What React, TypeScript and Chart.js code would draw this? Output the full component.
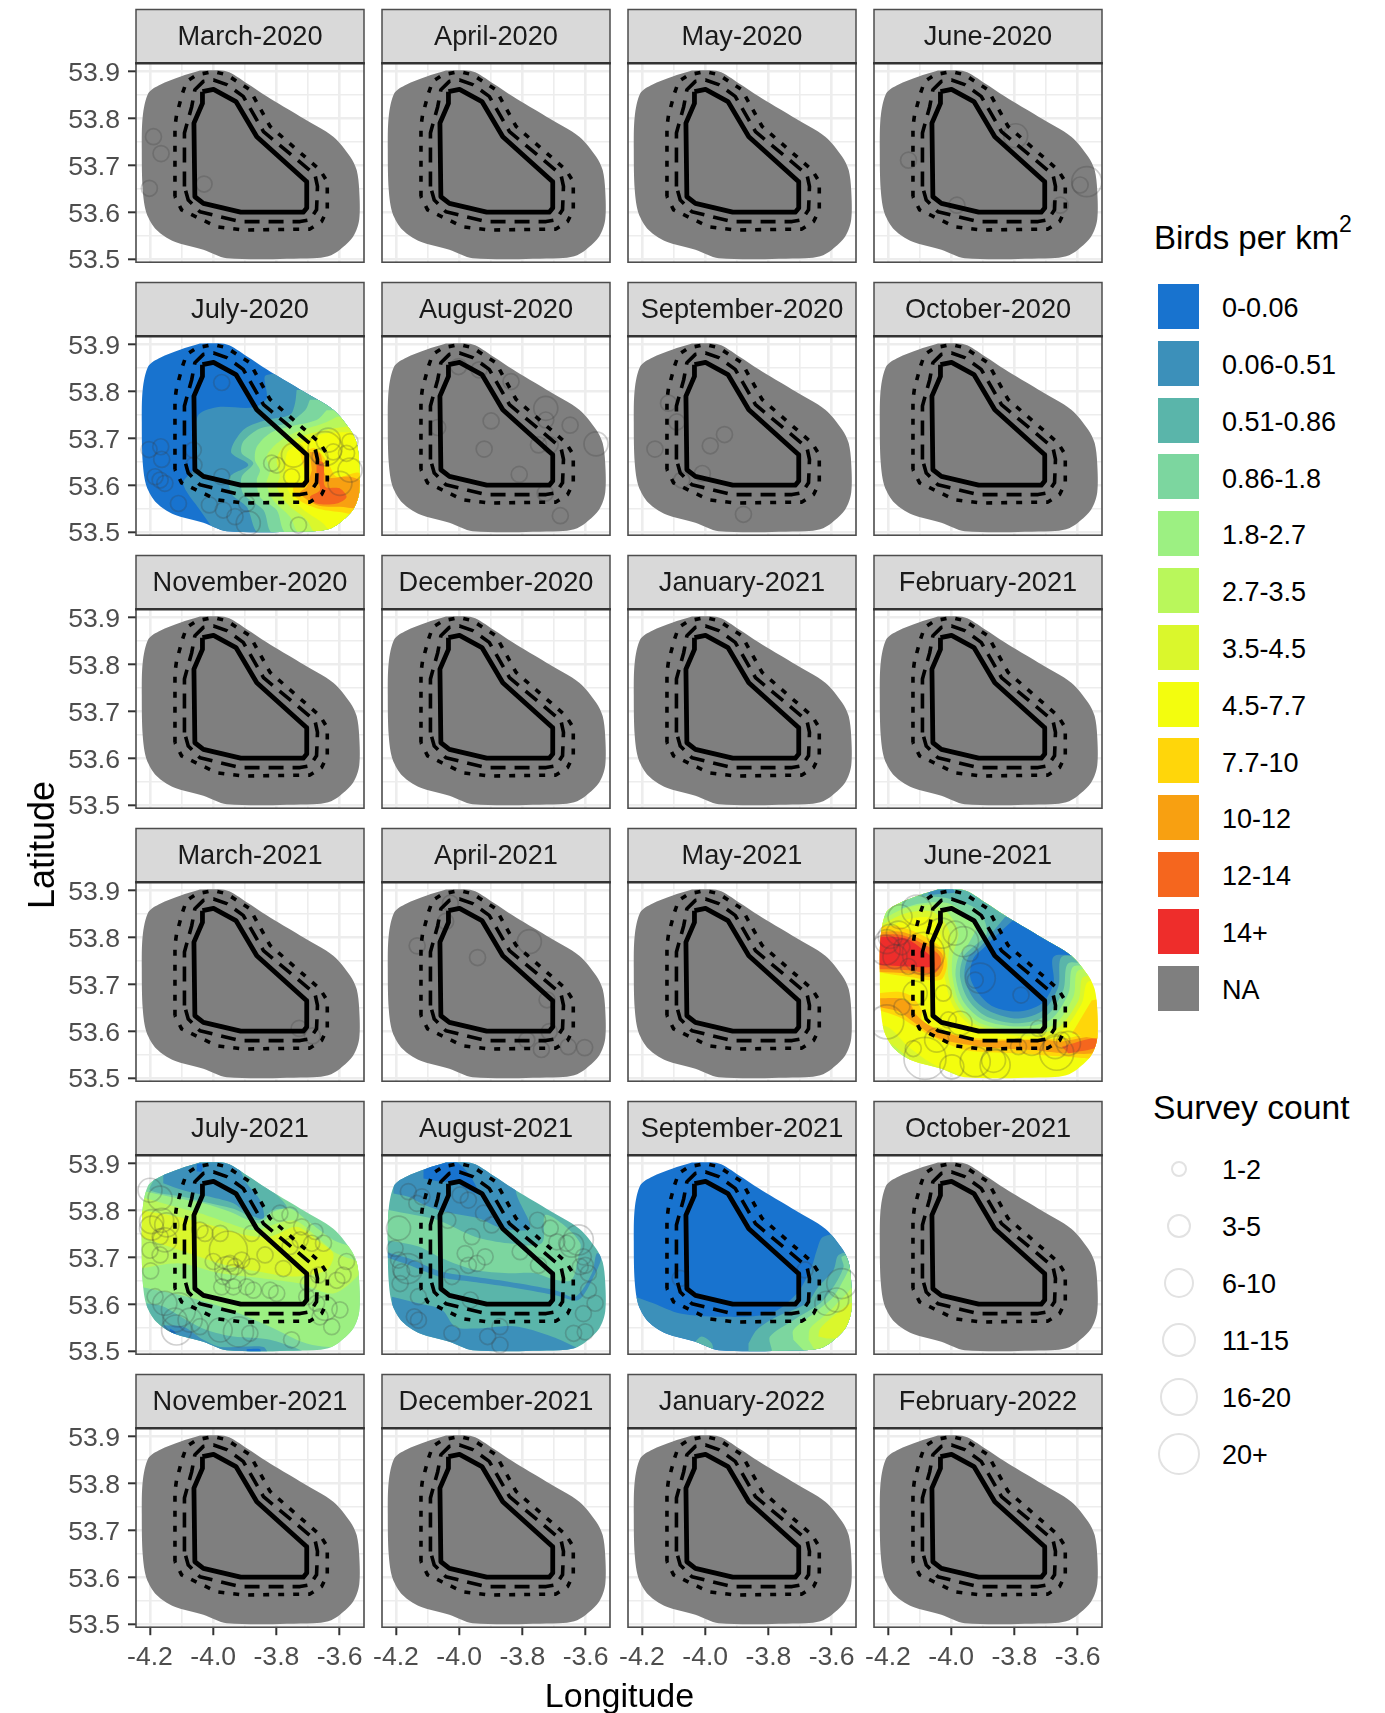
import { useEffect, useRef } from "react";
import { Chart, registerables } from "chart.js";

type Pt = number[];
type Band = { level: number; coords: Pt[] };

const FONT = '"Liberation Sans", Arial, sans-serif';

const panelTitles = [
  "March-2020", "April-2020", "May-2020", "June-2020",
  "July-2020", "August-2020", "September-2020", "October-2020",
  "November-2020", "December-2020", "January-2021", "February-2021",
  "March-2021", "April-2021", "May-2021", "June-2021",
  "July-2021", "August-2021", "September-2021", "October-2021",
  "November-2021", "December-2021", "January-2022", "February-2022",
];

const densityLabels = ["0-0.06", "0.06-0.51", "0.51-0.86", "0.86-1.8", "1.8-2.7", "2.7-3.5", "3.5-4.5", "4.5-7.7", "7.7-10", "10-12", "12-14", "14+", "NA"];
const densityColors = ["#1873cf", "#3c90ba", "#5ab5aa", "#7cd69f", "#9cf082", "#b9f75b", "#daf72c", "#f3fd0e", "#ffd60a", "#f8a011", "#f5661e", "#ee2d2b", "#7f7f7f"];
const NA_LEVEL = 12;

const sizeLabels = ["1-2", "3-5", "6-10", "11-15", "16-20", "20+"];
const sizeRadii = [8, 12, 15, 17, 19, 21];

const regionOutline: Pt[] = [
  [-4.042, 53.902], [-3.957, 53.9], [-3.894, 53.875], [-3.831, 53.847], [-3.725, 53.804], [-3.62, 53.761],
  [-3.567, 53.719], [-3.546, 53.69], [-3.538, 53.648], [-3.538, 53.584], [-3.557, 53.548], [-3.599, 53.52],
  [-3.636, 53.506], [-3.683, 53.502], [-3.957, 53.502], [-4.031, 53.52], [-4.126, 53.538], [-4.179, 53.562],
  [-4.211, 53.598], [-4.223, 53.648], [-4.226, 53.733], [-4.223, 53.804], [-4.205, 53.854], [-4.168, 53.872],
  [-4.105, 53.889], [-4.042, 53.902],
];
const solidBoundary: Pt[] = [
  [-4.034, 53.857], [-3.999, 53.862], [-3.928, 53.836], [-3.862, 53.761], [-3.704, 53.665], [-3.704, 53.609],
  [-3.715, 53.6], [-3.913, 53.6], [-4.031, 53.619], [-4.058, 53.633], [-4.061, 53.79], [-4.034, 53.832], [-4.034, 53.857],
];
const dashedBoundary: Pt[] = [
  [-4.091, 53.655], [-4.091, 53.769], [-4.068, 53.825], [-4.058, 53.861], [-4.031, 53.879], [-3.999, 53.882],
  [-3.957, 53.872], [-3.905, 53.847], [-3.841, 53.772], [-3.678, 53.68], [-3.67, 53.655], [-3.673, 53.605],
  [-3.694, 53.584], [-3.725, 53.58], [-3.915, 53.58], [-4.042, 53.601], [-4.079, 53.626], [-4.091, 53.655],
];
const dottedBoundary: Pt[] = [
  [-4.121, 53.633], [-4.121, 53.783], [-4.116, 53.807], [-4.097, 53.854], [-4.084, 53.879], [-4.052, 53.893],
  [-3.999, 53.9], [-3.957, 53.893], [-3.884, 53.861], [-3.82, 53.783], [-3.662, 53.69], [-3.639, 53.665],
  [-3.639, 53.605], [-3.657, 53.58], [-3.694, 53.564], [-3.905, 53.562], [-3.989, 53.569], [-4.1, 53.605], [-4.121, 53.633],
];

const jul2020Bands: Band[] = [
  { level: 0, coords: regionOutline },
  { level: 1, coords: [[-3.989, 53.497], [-4.042, 53.547], [-4.095, 53.604], [-4.058, 53.639], [-4.05, 53.746], [-3.989, 53.766], [-3.873, 53.766], [-3.831, 53.785], [-3.831, 53.835], [-3.451, 53.835], [-3.451, 53.497]] },
  { level: 2, coords: [[-3.736, 53.803], [-3.741, 53.775], [-3.757, 53.75], [-3.831, 53.739], [-3.899, 53.721], [-3.936, 53.689], [-3.942, 53.668], [-3.889, 53.643], [-3.947, 53.618], [-3.942, 53.582], [-3.894, 53.554], [-3.852, 53.497], [-3.451, 53.497], [-3.451, 53.803]] },
  { level: 3, coords: [[-3.694, 53.782], [-3.709, 53.76], [-3.767, 53.732], [-3.852, 53.721], [-3.905, 53.693], [-3.91, 53.668], [-3.873, 53.647], [-3.91, 53.618], [-3.905, 53.582], [-3.841, 53.547], [-3.81, 53.497], [-3.451, 53.497], [-3.451, 53.782]] },
  { level: 4, coords: [[-3.641, 53.76], [-3.673, 53.739], [-3.757, 53.725], [-3.82, 53.711], [-3.862, 53.682], [-3.868, 53.654], [-3.852, 53.632], [-3.862, 53.611], [-3.852, 53.575], [-3.799, 53.547], [-3.767, 53.497], [-3.451, 53.497], [-3.451, 53.76]] },
  { level: 5, coords: [[-3.609, 53.746], [-3.651, 53.732], [-3.746, 53.711], [-3.799, 53.689], [-3.831, 53.661], [-3.82, 53.632], [-3.831, 53.604], [-3.81, 53.568], [-3.757, 53.533], [-3.725, 53.497], [-3.451, 53.497], [-3.451, 53.746]] },
  { level: 6, coords: [[-3.578, 53.725], [-3.641, 53.718], [-3.725, 53.703], [-3.778, 53.682], [-3.799, 53.654], [-3.789, 53.618], [-3.799, 53.597], [-3.767, 53.561], [-3.704, 53.526], [-3.673, 53.497], [-3.451, 53.497], [-3.451, 53.725]] },
  { level: 7, coords: [[-3.451, 53.711], [-3.641, 53.711], [-3.725, 53.689], [-3.767, 53.668], [-3.767, 53.597], [-3.725, 53.554], [-3.651, 53.518], [-3.62, 53.497], [-3.451, 53.497]] },
  { level: 8, coords: [[-3.725, 53.668], [-3.678, 53.679], [-3.636, 53.647], [-3.609, 53.618], [-3.535, 53.625], [-3.525, 53.54], [-3.599, 53.543], [-3.673, 53.551], [-3.736, 53.572], [-3.746, 53.597], [-3.704, 53.611]] },
  { level: 9, coords: [[-3.694, 53.671], [-3.662, 53.668], [-3.641, 53.618], [-3.567, 53.618], [-3.525, 53.604], [-3.525, 53.554], [-3.599, 53.554], [-3.673, 53.558], [-3.725, 53.583], [-3.704, 53.597], [-3.688, 53.632]] },
  { level: 10, coords: [[-3.673, 53.654], [-3.651, 53.647], [-3.646, 53.597], [-3.599, 53.593], [-3.578, 53.575], [-3.609, 53.561], [-3.673, 53.561], [-3.694, 53.575], [-3.662, 53.59], [-3.673, 53.618]] },
];

const jun2021Bands: Band[] = [
  { level: 7, coords: regionOutline },
  { level: 6, coords: [[-4.23, 53.809], [-4.146, 53.837], [-4.061, 53.841], [-4.035, 53.809], [-4.025, 53.759], [-4.021, 53.716], [-3.993, 53.652], [-3.93, 53.61], [-3.787, 53.59], [-3.655, 53.599], [-3.587, 53.659], [-3.566, 53.706], [-3.471, 53.706], [-3.471, 53.93], [-4.23, 53.93]] },
  { level: 5, coords: [[-4.23, 53.823], [-4.146, 53.851], [-4.061, 53.855], [-4.019, 53.83], [-4.003, 53.802], [-4.009, 53.759], [-4.009, 53.716], [-3.982, 53.656], [-3.919, 53.613], [-3.787, 53.595], [-3.666, 53.606], [-3.597, 53.666], [-3.581, 53.716], [-3.471, 53.716], [-3.471, 53.93], [-4.23, 53.93]] },
  { level: 4, coords: [[-4.22, 53.837], [-4.146, 53.862], [-4.061, 53.869], [-4.009, 53.851], [-3.977, 53.809], [-3.996, 53.759], [-3.996, 53.716], [-3.972, 53.659], [-3.908, 53.617], [-3.787, 53.602], [-3.676, 53.613], [-3.613, 53.674], [-3.597, 53.73], [-3.471, 53.73], [-3.471, 53.93], [-4.22, 53.93]] },
  { level: 3, coords: [[-4.156, 53.862], [-4.093, 53.873], [-4.009, 53.873], [-3.956, 53.851], [-3.919, 53.83], [-3.945, 53.787], [-3.977, 53.759], [-3.986, 53.716], [-3.961, 53.663], [-3.898, 53.624], [-3.787, 53.61], [-3.687, 53.624], [-3.629, 53.681], [-3.613, 53.738], [-3.513, 53.738], [-3.513, 53.922], [-4.156, 53.922]] },
  { level: 2, coords: [[-4.093, 53.887], [-4.009, 53.883], [-3.914, 53.858], [-3.887, 53.809], [-3.93, 53.78], [-3.961, 53.759], [-3.972, 53.716], [-3.945, 53.666], [-3.887, 53.631], [-3.787, 53.617], [-3.697, 53.634], [-3.645, 53.688], [-3.629, 53.745], [-3.534, 53.745], [-3.534, 53.922], [-4.093, 53.922]] },
  { level: 1, coords: [[-3.829, 53.844], [-3.872, 53.809], [-3.908, 53.78], [-3.945, 53.759], [-3.958, 53.716], [-3.93, 53.67], [-3.877, 53.642], [-3.787, 53.627], [-3.708, 53.645], [-3.661, 53.695], [-3.65, 53.759], [-3.555, 53.759], [-3.555, 53.844]] },
  { level: 1, coords: [[-4.072, 53.89], [-4.019, 53.894], [-3.988, 53.897], [-4.019, 53.915], [-4.072, 53.915]] },
  { level: 0, coords: [[-3.803, 53.837], [-3.856, 53.805], [-3.893, 53.78], [-3.93, 53.755], [-3.94, 53.716], [-3.914, 53.681], [-3.866, 53.652], [-3.787, 53.642], [-3.713, 53.659], [-3.676, 53.702], [-3.676, 53.759], [-3.587, 53.766], [-3.587, 53.837]] },
  { level: 8, coords: [[-4.23, 53.823], [-4.167, 53.823], [-4.083, 53.802], [-4.025, 53.773], [-4.014, 53.738], [-4.035, 53.709], [-4.135, 53.716], [-4.23, 53.726]] },
  { level: 9, coords: [[-4.23, 53.812], [-4.156, 53.812], [-4.083, 53.791], [-4.03, 53.766], [-4.025, 53.738], [-4.046, 53.716], [-4.135, 53.723], [-4.23, 53.727]] },
  { level: 10, coords: [[-4.23, 53.805], [-4.156, 53.805], [-4.072, 53.78], [-4.035, 53.759], [-4.035, 53.738], [-4.056, 53.723], [-4.135, 53.73], [-4.23, 53.732]] },
  { level: 11, coords: [[-4.23, 53.802], [-4.146, 53.798], [-4.088, 53.773], [-4.056, 53.752], [-4.056, 53.738], [-4.135, 53.738], [-4.23, 53.741]] },
  { level: 8, coords: [[-4.23, 53.681], [-4.167, 53.684], [-4.125, 53.674], [-4.093, 53.645], [-4.093, 53.624], [-4.03, 53.602], [-3.914, 53.585], [-3.639, 53.585], [-3.534, 53.595], [-3.534, 53.546], [-3.639, 53.546], [-3.798, 53.553], [-3.956, 53.56], [-4.061, 53.588], [-4.114, 53.61], [-4.167, 53.631], [-4.23, 53.645]] },
  { level: 9, coords: [[-4.23, 53.67], [-4.167, 53.67], [-4.13, 53.659], [-4.114, 53.638], [-4.072, 53.613], [-4.009, 53.595], [-3.914, 53.581], [-3.703, 53.581], [-3.65, 53.578], [-3.534, 53.588], [-3.534, 53.556], [-3.639, 53.553], [-3.745, 53.56], [-3.903, 53.567], [-4.04, 53.585], [-4.114, 53.617], [-4.167, 53.642], [-4.23, 53.652]] },
  { level: 10, coords: [[-3.65, 53.567], [-3.545, 53.585], [-3.534, 53.567], [-3.629, 53.553]] },
  { level: 8, coords: [[-3.555, 53.666], [-3.534, 53.666], [-3.534, 53.588], [-3.618, 53.595]] },
  { level: 6, coords: [[-4.241, 53.617], [-4.193, 53.606], [-4.135, 53.567], [-4.061, 53.531], [-3.977, 53.503], [-4.241, 53.475]] },
  { level: 5, coords: [[-4.241, 53.595], [-4.178, 53.567], [-4.114, 53.531], [-4.04, 53.496], [-4.241, 53.475]] },
  { level: 4, coords: [[-4.241, 53.581], [-4.209, 53.581], [-4.167, 53.546], [-4.093, 53.51], [-4.241, 53.482]] },
];

const jul2021Bands: Band[] = [
  { level: 3, coords: regionOutline },
  { level: 4, coords: [[-4.232, 53.843], [-4.137, 53.829], [-4.031, 53.815], [-3.947, 53.797], [-3.852, 53.772], [-3.81, 53.797], [-3.757, 53.804], [-3.704, 53.779], [-3.62, 53.737], [-3.535, 53.708], [-3.535, 53.524], [-3.609, 53.509], [-3.704, 53.516], [-3.82, 53.552], [-3.947, 53.588], [-4.084, 53.616], [-4.232, 53.637]] },
  { level: 5, coords: [[-4.232, 53.829], [-4.137, 53.811], [-4.042, 53.794], [-3.947, 53.772], [-3.873, 53.758], [-3.746, 53.779], [-3.673, 53.744], [-3.609, 53.708], [-3.535, 53.687], [-3.535, 53.666], [-3.62, 53.623], [-3.725, 53.644], [-3.841, 53.655], [-3.978, 53.666], [-4.105, 53.687], [-4.232, 53.676]] },
  { level: 6, coords: [[-4.232, 53.801], [-4.116, 53.787], [-3.989, 53.765], [-3.894, 53.747], [-3.82, 53.744], [-3.736, 53.765], [-3.673, 53.737], [-3.62, 53.708], [-3.641, 53.673], [-3.746, 53.659], [-3.852, 53.669], [-3.978, 53.687], [-4.105, 53.715], [-4.232, 53.744]] },
  { level: 2, coords: [[-4.189, 53.865], [-4.2, 53.843], [-4.095, 53.829], [-4.01, 53.815], [-3.926, 53.801], [-3.857, 53.779], [-3.81, 53.801], [-3.767, 53.808], [-3.841, 53.858], [-3.957, 53.915], [-4.189, 53.915]] },
  { level: 1, coords: [[-4.158, 53.858], [-4.095, 53.843], [-4.01, 53.829], [-3.936, 53.815], [-3.894, 53.794], [-3.841, 53.783], [-3.852, 53.822], [-3.894, 53.858], [-3.947, 53.915], [-4.158, 53.915]] },
  { level: 0, coords: [[-4.052, 53.899], [-4.036, 53.899], [-4.036, 53.883], [-4.052, 53.883]] },
  { level: 2, coords: [[-4.211, 53.602], [-4.158, 53.595], [-4.084, 53.566], [-4.021, 53.545], [-3.936, 53.531], [-3.82, 53.524], [-3.715, 53.495], [-4.232, 53.481]] },
  { level: 1, coords: [[-4.158, 53.555], [-4.095, 53.552], [-4.031, 53.524], [-3.978, 53.509], [-3.841, 53.509], [-3.831, 53.495], [-4.158, 53.481]] },
  { level: 0, coords: [[-4.137, 53.548], [-4.121, 53.541], [-4.116, 53.531], [-4.137, 53.531]] },
  { level: 0, coords: [[-3.894, 53.504], [-3.852, 53.504], [-3.852, 53.495], [-3.894, 53.495]] },
];

const aug2021Bands: Band[] = [
  { level: 2, coords: regionOutline },
  { level: 1, coords: [[-4.208, 53.836], [-4.161, 53.829], [-4.108, 53.811], [-4.045, 53.797], [-3.939, 53.783], [-3.865, 53.762], [-3.776, 53.762], [-3.818, 53.833], [-3.844, 53.915], [-4.208, 53.915]] },
  { level: 0, coords: [[-4.113, 53.886], [-4.076, 53.9], [-4.013, 53.904], [-3.971, 53.879], [-3.939, 53.836], [-3.981, 53.847], [-4.013, 53.861], [-4.055, 53.861], [-4.113, 53.868]] },
  { level: 3, coords: [[-4.234, 53.802], [-4.14, 53.79], [-4.066, 53.779], [-3.95, 53.744], [-3.844, 53.73], [-3.739, 53.73], [-3.728, 53.79], [-3.675, 53.772], [-3.617, 53.73], [-3.623, 53.701], [-3.644, 53.652], [-3.696, 53.652], [-3.76, 53.666], [-3.844, 53.666], [-3.95, 53.673], [-4.055, 53.698], [-4.129, 53.723], [-4.234, 53.737]] },
  { level: 1, coords: [[-4.234, 53.712], [-4.161, 53.698], [-4.055, 53.669], [-3.96, 53.659], [-3.844, 53.648], [-3.696, 53.63], [-3.633, 53.616], [-3.58, 53.666], [-3.565, 53.708], [-3.549, 53.701], [-3.58, 53.651], [-3.623, 53.609], [-3.696, 53.619], [-3.844, 53.637], [-3.96, 53.648], [-4.055, 53.657], [-4.161, 53.684], [-4.234, 53.701]] },
  { level: 1, coords: [[-4.213, 53.616], [-4.129, 53.602], [-4.055, 53.588], [-4.013, 53.552], [-3.95, 53.548], [-3.813, 53.552], [-3.633, 53.509], [-3.612, 53.481], [-4.213, 53.481]] },
];

const sep2021Bands: Band[] = [
  { level: 0, coords: regionOutline },
  { level: 1, coords: [[-4.222, 53.616], [-4.164, 53.602], [-4.079, 53.58], [-3.953, 53.573], [-3.795, 53.58], [-3.71, 53.623], [-3.663, 53.68], [-3.647, 53.715], [-3.626, 53.744], [-3.531, 53.744], [-3.531, 53.488], [-4.222, 53.488]] },
  { level: 2, coords: [[-4.037, 53.516], [-4.011, 53.531], [-3.979, 53.516], [-3.979, 53.495], [-4.037, 53.495]] },
  { level: 2, coords: [[-3.863, 53.516], [-3.837, 53.545], [-3.774, 53.573], [-3.679, 53.602], [-3.642, 53.637], [-3.594, 53.673], [-3.578, 53.705], [-3.531, 53.708], [-3.531, 53.488], [-3.863, 53.488]] },
  { level: 3, coords: [[-3.789, 53.502], [-3.795, 53.531], [-3.721, 53.566], [-3.636, 53.602], [-3.594, 53.637], [-3.562, 53.68], [-3.568, 53.701], [-3.531, 53.701], [-3.531, 53.488], [-3.789, 53.488]] },
  { level: 4, coords: [[-3.721, 53.524], [-3.721, 53.545], [-3.657, 53.58], [-3.594, 53.616], [-3.562, 53.652], [-3.531, 53.687], [-3.531, 53.488], [-3.679, 53.495]] },
  { level: 5, coords: [[-3.673, 53.524], [-3.668, 53.548], [-3.615, 53.58], [-3.552, 53.623], [-3.531, 53.637], [-3.531, 53.495], [-3.647, 53.495]] },
  { level: 6, coords: [[-3.642, 53.531], [-3.636, 53.548], [-3.584, 53.58], [-3.531, 53.602], [-3.531, 53.531], [-3.615, 53.527]] },
];

const panelBands: Record<string, Band[]> = {
  "July-2020": jul2020Bands,
  "June-2021": jun2021Bands,
  "July-2021": jul2021Bands,
  "August-2021": aug2021Bands,
  "September-2021": sep2021Bands,
};

// survey positions: longitude, latitude, size class (index into sizeLabels)
const surveysMar2020: Pt[] = [[-4.189, 53.761, 0], [-4.165, 53.725, 0], [-4.202, 53.651, 0], [-4.029, 53.66, 0]];
const surveysJun2020: Pt[] = [[-4.135, 53.711, 0], [-3.796, 53.763, 1], [-3.571, 53.665, 2], [-3.592, 53.658, 0], [-3.982, 53.615, 0], [-3.655, 53.615, 0]];
const surveysJul2020: Pt[] = [
  [-3.973, 53.819, 0], [-4.203, 53.676, 0], [-4.166, 53.682, 0], [-4.163, 53.655, 0], [-4.184, 53.618, 0], [-4.168, 53.611, 0],
  [-4.153, 53.604, 0], [-4.11, 53.561, 0], [-4.063, 53.675, 0], [-4.061, 53.643, 0], [-4.012, 53.558, 0], [-3.973, 53.618, 0],
  [-3.968, 53.547, 0], [-3.931, 53.533, 0], [-3.889, 53.519, 1], [-3.894, 53.561, 0], [-3.73, 53.515, 0], [-3.799, 53.643, 0],
  [-3.815, 53.647, 0], [-3.746, 53.664, 1], [-3.752, 53.618, 0], [-3.636, 53.696, 1], [-3.646, 53.678, 3], [-3.567, 53.693, 0],
  [-3.578, 53.668, 0], [-3.567, 53.632, 1], [-3.599, 53.604, 1], [-3.662, 53.661, 0], [-3.62, 53.671, 0],
];
const surveysAug2020: Pt[] = [
  [-4.002, 53.853, 0], [-3.937, 53.846, 0], [-3.836, 53.821, 0], [-3.726, 53.764, 1], [-3.726, 53.739, 0], [-3.649, 53.728, 0],
  [-3.567, 53.688, 1], [-3.899, 53.737, 0], [-3.921, 53.677, 0], [-4.068, 53.723, 0], [-3.749, 53.686, 0], [-3.712, 53.686, 0],
  [-3.81, 53.623, 0], [-3.728, 53.583, 0], [-3.68, 53.535, 0],
];
const surveysSep2020: Pt[] = [[-4.116, 53.775, 0], [-4.09, 53.735, 0], [-4.159, 53.677, 0], [-3.984, 53.684, 0], [-3.939, 53.708, 0], [-4.009, 53.625, 0], [-4.074, 53.611, 0], [-3.879, 53.538, 0]];
const surveysMar2021: Pt[] = [[-3.728, 53.606, 0], [-3.686, 53.59, 0]];
const surveysApr2021: Pt[] = [[-4.133, 53.782, 0], [-4.028, 53.873, 0], [-4.043, 53.834, 0], [-3.942, 53.757, 0], [-3.778, 53.791, 1], [-3.722, 53.667, 0], [-3.715, 53.599, 0], [-3.786, 53.581, 0], [-3.74, 53.561, 0], [-3.655, 53.567, 0], [-3.603, 53.565, 0]];
const surveysJun2021: Pt[] = [
  [-4.109, 53.858, 2], [-4.162, 53.844, 1], [-4.204, 53.791, 1], [-4.167, 53.809, 1], [-4.193, 53.802, 1], [-4.209, 53.773, 2],
  [-4.178, 53.759, 1], [-4.156, 53.78, 0], [-4.135, 53.738, 0], [-4.088, 53.766, 5], [-4.03, 53.809, 2], [-3.988, 53.809, 1],
  [-3.961, 53.791, 2], [-3.94, 53.766, 0], [-3.908, 53.713, 2], [-3.924, 53.709, 0], [-4.025, 53.681, 0], [-4.114, 53.681, 1],
  [-4.156, 53.652, 0], [-4.204, 53.62, 3], [-3.972, 53.617, 1], [-3.779, 53.677, 0], [-4.12, 53.563, 0], [-4.083, 53.542, 5],
  [-4.046, 53.581, 1], [-3.998, 53.524, 1], [-3.924, 53.535, 2], [-3.866, 53.538, 1], [-3.861, 53.528, 2], [-3.787, 53.567, 0],
  [-3.745, 53.574, 1], [-3.724, 53.606, 0], [-3.671, 53.567, 1], [-3.65, 53.581, 0], [-3.666, 53.553, 3], [-3.629, 53.574, 1],
  [-4.009, 53.624, 0],
];
const surveysJul2021: Pt[] = [
  [-4.2, 53.843, 1], [-4.168, 53.826, 1], [-4.195, 53.776, 1], [-4.163, 53.779, 1], [-4.195, 53.762, 1], [-4.147, 53.769, 1],
  [-4.168, 53.744, 0], [-4.153, 53.737, 1], [-4.2, 53.715, 0], [-4.168, 53.705, 0], [-4.198, 53.671, 0], [-4.184, 53.616, 0],
  [-4.153, 53.602, 1], [-4.11, 53.588, 3], [-4.121, 53.566, 1], [-4.116, 53.545, 2], [-4.073, 53.566, 1], [-4.042, 53.552, 0],
  [-3.978, 53.545, 1], [-3.92, 53.541, 2], [-3.884, 53.538, 0], [-3.752, 53.524, 0], [-3.952, 53.715, 4], [-4.026, 53.751, 0],
  [-4.042, 53.758, 0], [-3.978, 53.751, 0], [-3.878, 53.751, 0], [-3.91, 53.694, 0], [-3.947, 53.687, 0], [-3.957, 53.676, 1],
  [-3.931, 53.68, 0], [-3.878, 53.68, 0], [-4.0, 53.691, 0], [-3.968, 53.659, 0], [-3.936, 53.659, 1], [-3.936, 53.637, 0],
  [-3.873, 53.63, 0], [-3.82, 53.63, 0], [-3.799, 53.623, 0], [-3.973, 53.637, 0], [-3.836, 53.705, 0], [-3.778, 53.676, 0],
  [-3.789, 53.794, 0], [-3.757, 53.79, 0], [-3.72, 53.765, 0], [-3.678, 53.755, 0], [-3.651, 53.73, 0], [-3.688, 53.73, 0],
  [-3.725, 53.737, 0], [-3.757, 53.723, 0], [-3.667, 53.662, 0], [-3.578, 53.691, 0], [-3.589, 53.662, 0], [-3.609, 53.651, 0],
  [-3.699, 53.644, 0], [-3.704, 53.616, 0], [-3.673, 53.602, 0], [-3.599, 53.588, 0], [-3.625, 53.552, 0], [-3.662, 53.573, 0],
  [-3.646, 53.591, 1], [-3.894, 53.637, 0],
];
const surveysAug2021: Pt[] = [
  [-4.161, 53.84, 0], [-4.118, 53.829, 0], [-4.134, 53.815, 0], [-3.997, 53.833, 0], [-3.971, 53.822, 0], [-3.923, 53.794, 0],
  [-4.036, 53.779, 0], [-4.192, 53.762, 1], [-3.96, 53.744, 0], [-4.203, 53.719, 0], [-4.163, 53.676, 2], [-4.192, 53.694, 0],
  [-4.182, 53.669, 0], [-4.14, 53.676, 0], [-4.187, 53.644, 0], [-4.129, 53.616, 0], [-4.142, 53.573, 0], [-4.129, 53.566, 0],
  [-4.023, 53.538, 0], [-3.91, 53.531, 0], [-3.871, 53.513, 0], [-3.871, 53.552, 0], [-3.981, 53.708, 0], [-3.918, 53.701, 0],
  [-3.944, 53.687, 0], [-3.971, 53.683, 0], [-4.023, 53.659, 0], [-3.965, 53.609, 0], [-3.807, 53.712, 0], [-3.749, 53.683, 0],
  [-3.752, 53.779, 0], [-3.712, 53.762, 0], [-3.691, 53.733, 0], [-3.66, 53.73, 0], [-3.644, 53.726, 1], [-3.623, 53.737, 2],
  [-3.607, 53.701, 0], [-3.601, 53.683, 0], [-3.617, 53.68, 0], [-3.591, 53.666, 0], [-3.591, 53.63, 0], [-3.57, 53.602, 0],
  [-3.607, 53.58, 0], [-3.638, 53.538, 0], [-3.601, 53.541, 0], [-3.897, 53.769, 0],
];
const surveysSep2021: Pt[] = [[-4.079, 53.655, 0], [-3.684, 53.673, 0], [-3.568, 53.644, 2], [-3.584, 53.609, 1], [-3.615, 53.602, 1]];

const panelSurveys: Record<string, Pt[]> = {
  "March-2020": surveysMar2020,
  "June-2020": surveysJun2020,
  "July-2020": surveysJul2020,
  "August-2020": surveysAug2020,
  "September-2020": surveysSep2020,
  "March-2021": surveysMar2021,
  "April-2021": surveysApr2021,
  "June-2021": surveysJun2021,
  "July-2021": surveysJul2021,
  "August-2021": surveysAug2021,
  "September-2021": surveysSep2021,
};

const LON_MIN = -4.2443;
const LON_MAX = -3.5228;
const LAT_MIN = 53.4934;
const LAT_MAX = 53.9177;

const toXY = (p: Pt[]) => p.map(([x, y]) => ({ x, y }));

// Bands are painted only inside the survey region (dataset 0 of a coloured panel).
const regionClip = {
  id: "regionClip",
  beforeDatasetDraw(chart: any, args: any) {
    if (!chart.data.datasets[args.index].clipToRegion) return;
    const { ctx, chartArea } = chart;
    const line = chart.getDatasetMeta(0).dataset;
    line.updateControlPoints(chartArea, "x");
    ctx.save();
    ctx.beginPath();
    line.path(ctx);
    ctx.closePath();
    ctx.clip();
  },
  afterDatasetDraw(chart: any, args: any) {
    if (chart.data.datasets[args.index].clipToRegion) chart.ctx.restore();
  },
};

const stripPlugin = {
  id: "facetStrip",
  beforeDraw(chart: any) {
    const { ctx, chartArea: a } = chart;
    ctx.save();
    ctx.fillStyle = "#d9d9d9";
    ctx.fillRect(a.left, 1.5, a.right - a.left, a.top - 1.5);
    ctx.strokeStyle = "#4d4d4d";
    ctx.lineWidth = 1.5;
    ctx.strokeRect(a.left, 1.5, a.right - a.left, a.top - 1.5);
    ctx.restore();
  },
  afterDraw(chart: any) {
    const { ctx, chartArea: a } = chart;
    ctx.save();
    ctx.strokeStyle = "#4d4d4d";
    ctx.lineWidth = 1.6;
    ctx.strokeRect(a.left, a.top, a.right - a.left, a.bottom - a.top);
    ctx.strokeStyle = "#333333";
    ctx.lineWidth = 2.4;
    ctx.beginPath();
    ctx.moveTo(a.left - 0.8, a.top);
    ctx.lineTo(a.right + 0.8, a.top);
    ctx.stroke();
    ctx.restore();
  },
};

Chart.register(regionClip, ...registerables);

function Panel({ title, index }: { title: string; index: number }) {
  const ref = useRef<HTMLCanvasElement | null>(null);
  const col = index % 4;
  const row = Math.floor(index / 4);
  const showY = col === 0;
  const showX = row === 5;

  useEffect(() => {
    const bands = panelBands[title];
    const surveys = panelSurveys[title] || [];
    const datasets: any[] = [];
    const polygon = (coords: Pt[], level: number, clipToRegion: boolean) => ({
      type: "line",
      data: toXY(coords),
      fill: "shape",
      backgroundColor: densityColors[level],
      borderWidth: 0,
      pointRadius: 0,
      tension: 0.3,
      clipToRegion,
    });
    if (bands) bands.forEach((b) => datasets.push(polygon(b.coords, b.level, b.coords !== regionOutline)));
    else datasets.push(polygon(regionOutline, NA_LEVEL, false));
    if (surveys.length)
      datasets.push({
        type: "bubble",
        data: surveys.map(([x, y, c]) => ({ x, y, r: sizeRadii[c] })),
        backgroundColor: "rgba(0,0,0,0)",
        borderColor: "rgba(60,60,60,0.24)",
        borderWidth: 1.7,
        hoverRadius: 0,
      });
    const outline = (coords: Pt[], width: number, dash: number[]) => ({
      type: "line",
      data: toXY(coords),
      fill: false,
      borderColor: "#000000",
      borderWidth: width,
      borderDash: dash,
      borderJoinStyle: "round",
      pointRadius: 0,
      tension: 0,
    });
    datasets.push(outline(dottedBoundary, 3.6, [6, 9]));
    datasets.push(outline(dashedBoundary, 3.6, [15, 9]));
    datasets.push(outline(solidBoundary, 4.8, []));
    datasets.forEach((d, i) => (d.order = -i));

    const majorX = (v: number) => Math.round(v * 10) % 2 === 0;
    const majorY = (v: number) => Math.round(v * 100) % 10 === 0;
    const chart = new Chart(ref.current as HTMLCanvasElement, {
      type: "scatter",
      data: { datasets },
      plugins: [stripPlugin],
      options: {
        animation: false,
        responsive: false,
        events: [],
        layout: { autoPadding: false, padding: { left: 0, right: 10, top: 0, bottom: 0 } },
        plugins: {
          legend: { display: false },
          tooltip: { enabled: false },
          title: {
            display: true,
            text: title,
            fullSize: false,
            color: "#1a1a1a",
            padding: { top: 14, bottom: 10 },
            font: { family: FONT, size: 27.2, weight: "normal", lineHeight: 1.147 },
          },
        },
        scales: {
          x: {
            type: "linear",
            min: LON_MIN,
            max: LON_MAX,
            afterFit: (s: any) => { s.height = 49.8; },
            border: { display: false },
            grid: {
              drawTicks: showX,
              tickLength: 8,
              tickWidth: 2,
              tickColor: (c: any) => (majorX(c.tick.value) ? "#333333" : "rgba(0,0,0,0)"),
              color: "#ededed",
              lineWidth: (c: any) => (majorX(c.tick.value) ? 2.6 : 1.6),
            },
            ticks: {
              display: showX,
              stepSize: 0.1,
              includeBounds: false,
              autoSkip: false,
              maxRotation: 0,
              minRotation: 0,
              padding: 6,
              color: "#4d4d4d",
              font: { family: FONT, size: 26.6 },
              callback: (v: any) => (majorX(Number(v)) ? Number(v).toFixed(1) : ""),
            },
          },
          y: {
            type: "linear",
            min: LAT_MIN,
            max: LAT_MAX,
            afterFit: (s: any) => { s.width = 80; },
            border: { display: false },
            grid: {
              drawTicks: showY,
              tickLength: 8,
              tickWidth: 2,
              tickColor: (c: any) => (majorY(c.tick.value) ? "#333333" : "rgba(0,0,0,0)"),
              color: "#ededed",
              lineWidth: (c: any) => (majorY(c.tick.value) ? 2.6 : 1.6),
            },
            ticks: {
              display: showY,
              stepSize: 0.05,
              includeBounds: false,
              autoSkip: false,
              padding: 8,
              labelOffset: 2,
              color: "#4d4d4d",
              font: { family: FONT, size: 26.6 },
              callback: (v: any) => (majorY(Number(v)) ? Number(v).toFixed(1) : ""),
            },
          },
        },
      } as any,
    } as any);
    return () => chart.destroy();
  }, [title, showX, showY]);

  return (
    <canvas
      ref={ref}
      width={318}
      height={304}
      style={{ position: "absolute", left: 56 + 246 * col, top: 8 + 273 * row, width: 318, height: 304 }}
    />
  );
}

const textStyle = (left: number, centerY: number, size: number, color = "#000"): any => ({
  position: "absolute",
  left,
  top: centerY - size * 0.75,
  lineHeight: `${size * 1.5}px`,
  fontSize: size,
  fontFamily: FONT,
  color,
  whiteSpace: "nowrap",
});

export default function App() {
  return (
    <div style={{ position: "absolute", left: 0, top: 0, width: 1385, height: 1713, background: "#fff", overflow: "hidden" }}>
      {panelTitles.map((t, i) => (
        <Panel key={t} title={t} index={i} />
      ))}
      <div style={{ ...textStyle(0, 1695, 34), width: 1239, textAlign: "center" }}>Longitude</div>
      <div
        style={{
          ...textStyle(0, 0, 36),
          left: 41.5,
          top: 845,
          transform: "translate(-50%,-50%) rotate(-90deg)",
        }}
      >
        Latitude
      </div>

      <div style={textStyle(1154, 238, 33)}>Birds per km</div>
      <div style={textStyle(1339, 224, 23)}>2</div>
      {densityLabels.map((l, i) => (
        <div key={l}>
          <div
            style={{
              position: "absolute",
              left: 1158,
              top: 284 + 56.8 * i,
              width: 41,
              height: 45,
              background: densityColors[i],
            }}
          />
          <div style={textStyle(1222, 308.5 + 56.8 * i, 27)}>{l}</div>
        </div>
      ))}

      <div style={textStyle(1153, 1107, 33.7)}>Survey count</div>
      {sizeLabels.map((l, i) => (
        <div key={l}>
          <div
            style={{
              position: "absolute",
              left: 1179 - sizeRadii[i],
              top: 1169 + 56.9 * i - sizeRadii[i],
              width: sizeRadii[i] * 2,
              height: sizeRadii[i] * 2,
              boxSizing: "border-box",
              borderRadius: "50%",
              border: "2px solid #e2e2e2",
            }}
          />
          <div style={textStyle(1222, 1170.5 + 56.9 * i, 27)}>{l}</div>
        </div>
      ))}
    </div>
  );
}
